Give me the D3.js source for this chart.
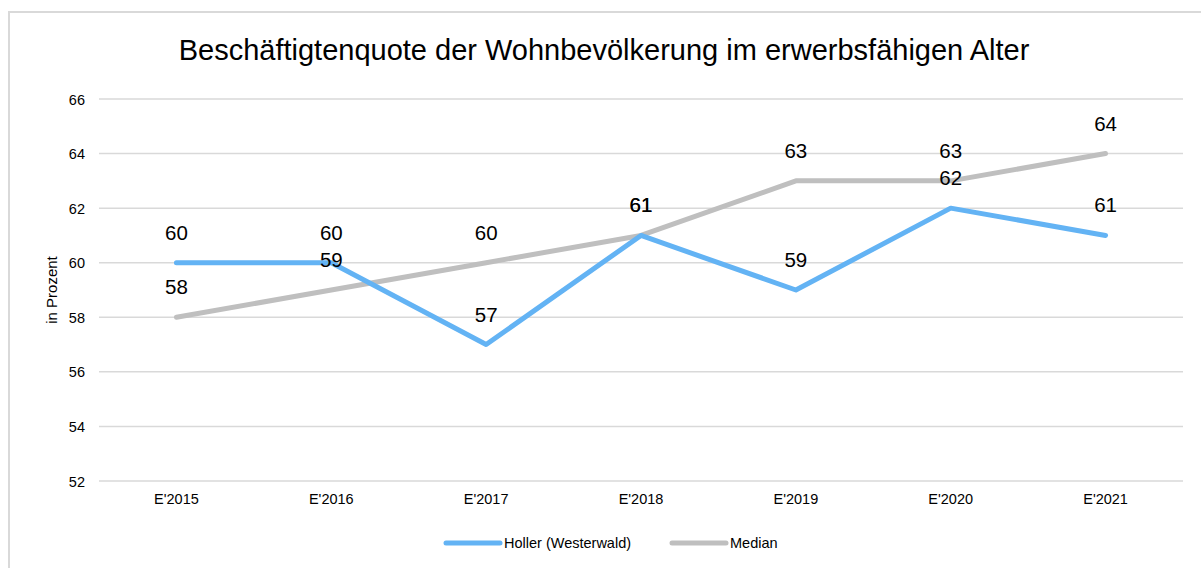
<!DOCTYPE html>
<html>
<head>
<meta charset="utf-8">
<script src="https://cdn.jsdelivr.net/npm/d3@7"></script>
<style>
  html, body { margin: 0; padding: 0; background: #fff; }
  svg { display: block; font-family: "Liberation Sans", Arial, sans-serif; }
</style>
</head>
<body>
<svg id="chart" width="1201" height="568"></svg>
<script>
// Chart data
const categories = ["E'2015", "E'2016", "E'2017", "E'2018", "E'2019", "E'2020", "E'2021"];
const hollerValues = [60, 60, 57, 61, 59, 62, 61];
const medianValues = [58, 59, 60, 61, 63, 63, 64];
const yTicks = [52, 54, 56, 58, 60, 62, 64, 66];
const seriesNames = ["Holler (Westerwald)", "Median"];
const seriesColors = ["#63b3f4", "#bfbfbf"];
const titleText = "Beschäftigtenquote der Wohnbevölkerung im erwerbsfähigen Alter";
const yAxisTitle = "in Prozent";

const svg = d3.select("#chart");
const W = 1201, H = 568;

// Outer frame
svg.append("rect")
  .attr("x", 9).attr("y", 12)
  .attr("width", W + 20).attr("height", H + 20)
  .attr("fill", "#fff")
  .attr("stroke", "#d9d9d9")
  .attr("stroke-width", 2);

const plot = { left: 99, right: 1183, top: 99, bottom: 481 };

const x = d3.scaleBand()
  .domain(categories)
  .range([plot.left, plot.right]);

const y = d3.scaleLinear()
  .domain([52, 66])
  .range([plot.bottom, plot.top]);

// Title
svg.append("text")
  .attr("x", 604).attr("y", 60)
  .attr("text-anchor", "middle")
  .attr("font-size", 29)
  .attr("fill", "#000")
  .text(titleText);

// Horizontal gridlines
svg.append("g")
  .selectAll("line")
  .data(yTicks)
  .join("line")
  .attr("x1", plot.left).attr("x2", plot.right)
  .attr("y1", d => y(d)).attr("y2", d => y(d))
  .attr("stroke", "#d9d9d9")
  .attr("stroke-width", 1.5);

// Y axis labels
const yAxis = d3.axisLeft(y).tickValues(yTicks).tickSize(0).tickPadding(0);
const gy = svg.append("g")
  .attr("transform", `translate(${plot.left - 14},0)`)
  .call(yAxis);
gy.select(".domain").remove();
gy.selectAll("text")
  .attr("font-size", 14.5)
  .attr("font-family", "Liberation Sans, Arial, sans-serif")
  .attr("fill", "#000")
  .attr("dy", "0.35em");

// X axis labels
const xAxis = d3.axisBottom(x).tickSize(0).tickPadding(0);
const gx = svg.append("g")
  .attr("transform", `translate(0,${plot.bottom + 18})`)
  .call(xAxis);
gx.select(".domain").remove();
gx.selectAll("text")
  .attr("font-size", 14.5)
  .attr("font-family", "Liberation Sans, Arial, sans-serif")
  .attr("fill", "#000")
  .attr("dy", "0.35em");

// Y axis title
svg.append("text")
  .attr("transform", `translate(57,${(plot.top + plot.bottom) / 2}) rotate(-90)`)
  .attr("text-anchor", "middle")
  .attr("font-size", 15)
  .attr("fill", "#000")
  .text(yAxisTitle);

const cx = c => x(c) + x.bandwidth() / 2;

const series = [
  { name: seriesNames[0], values: hollerValues, color: seriesColors[0] },
  { name: seriesNames[1], values: medianValues, color: seriesColors[1] }
];

const line = d3.line()
  .x((d, i) => cx(categories[i]))
  .y(d => y(d));

// Lines: Median below, Holler above
[series[1], series[0]].forEach(s => {
  svg.append("path")
    .datum(s.values)
    .attr("d", line)
    .attr("fill", "none")
    .attr("stroke", s.color)
    .attr("stroke-width", 5)
    .attr("stroke-linejoin", "round")
    .attr("stroke-linecap", "round");
});

// Data labels above each point
series.forEach(s => {
  svg.append("g")
    .selectAll("text")
    .data(s.values)
    .join("text")
    .attr("x", (d, i) => cx(categories[i]))
    .attr("y", d => y(d) - 23)
    .attr("text-anchor", "middle")
    .attr("font-size", 20.5)
    .attr("fill", "#000")
    .text(d => d);
});

// Legend
const legend = svg.append("g");
const legendItems = [
  { name: seriesNames[0], color: seriesColors[0], x: 446 },
  { name: seriesNames[1], color: seriesColors[1], x: 672 }
];
legendItems.forEach(it => {
  legend.append("line")
    .attr("x1", it.x).attr("x2", it.x + 54)
    .attr("y1", 543).attr("y2", 543)
    .attr("stroke", it.color)
    .attr("stroke-width", 5)
    .attr("stroke-linecap", "round");
  legend.append("text")
    .attr("x", it.x + 58).attr("y", 543)
    .attr("dy", "0.35em")
    .attr("font-size", 14.5)
    .attr("fill", "#000")
    .text(it.name);
});
</script>
</body>
</html>
